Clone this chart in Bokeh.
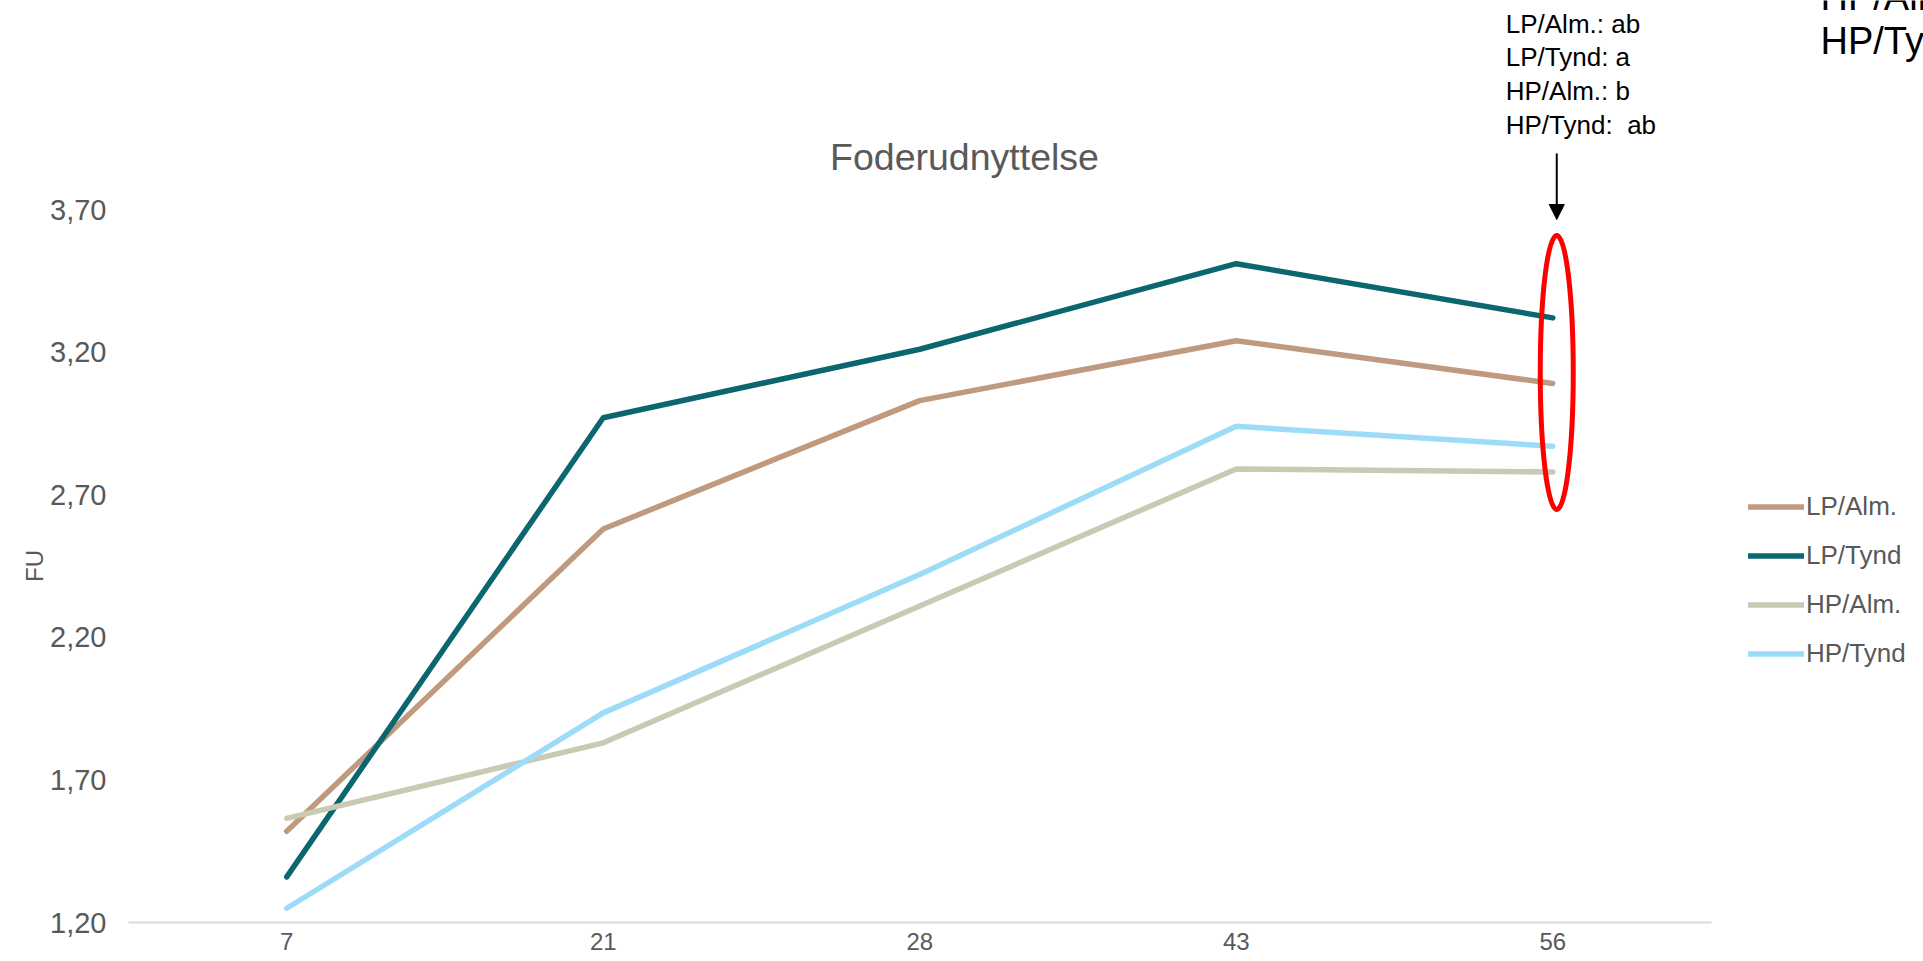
from bokeh.plotting import figure
from bokeh.models import (Range1d, FixedTicker, Legend, LegendItem, Label, Arrow, NormalHead,
                          Title)
from bokeh.embed import file_html
from bokeh.resources import INLINE

# ---- data ----
days = ["7", "21", "28", "43", "56"]
lp_alm = [1.52, 2.58, 3.03, 3.24, 3.09]
lp_tynd = [1.36, 2.97, 3.21, 3.51, 3.32]
hp_alm = [1.565, 1.83, 2.31, 2.79, 2.78]
hp_tynd = [1.25, 1.935, 2.42, 2.94, 2.87]
series_names = ["LP/Alm.", "LP/Tynd", "HP/Alm.", "HP/Tynd"]
series_colors = ["#C09A7E", "#0B6670", "#C9C9B4", "#9DDCF9"]
y_ticks = [1.20, 1.70, 2.20, 2.70, 3.20, 3.70]
y_tick_labels = ["1,20", "1,70", "2,20", "2,70", "3,20", "3,70"]
title_text = "Foderudnyttelse"
y_label = "FU"
sig_lines = ["LP/Alm.: ab", "LP/Tynd: a", "HP/Alm.: b", "HP/Tynd:\u00a0 ab"]
big_lines = ["HP/Alm.: b", "HP/Tynd:\u00a0 ab"]

FONT = "Liberation Sans"
GREY = "#595959"

# ---- layout (pixels) ----
W, H = 1923, 961
PX_LEFT, PX_BOTTOM = 128, 922       # left edge of plot area, row of y = 1.20
PX_PER_X, PX_PER_Y = 316.5, 285.2   # pixels per category / per FU unit
Y0 = y_ticks[0]

xs = list(range(len(days)))
x_end = -0.5 + (W - PX_LEFT) / PX_PER_X
y_end = Y0 + PX_BOTTOM / PX_PER_Y


def ypix(py):
    """data y for an image row (annotation placement)."""
    return Y0 + (PX_BOTTOM - py) / PX_PER_Y


def xpix(px):
    return -0.5 + (px - PX_LEFT) / PX_PER_X


p = figure(width=W, height=H, output_backend="svg", toolbar_location=None,
           title_location=None,
           x_range=Range1d(-0.5, x_end), y_range=Range1d(Y0, y_end),
           min_border_left=PX_LEFT, min_border_right=0, min_border_top=0,
           min_border_bottom=H - PX_BOTTOM)
p.outline_line_color = None
p.xgrid.visible = False
p.ygrid.visible = False
p.background_fill_color = "white"
p.border_fill_color = "white"

# axes
p.xaxis.ticker = FixedTicker(ticks=xs)
p.xaxis.bounds = (-0.5, len(days) - 0.5)
p.xaxis.major_label_overrides = {i: d for i, d in enumerate(days)}
p.xaxis.axis_line_color = "#D9D9D9"
p.xaxis.axis_line_width = 2
p.xaxis.major_tick_line_color = None
p.xaxis.minor_tick_line_color = None
p.xaxis.major_tick_out = 0
p.xaxis.major_tick_in = 0
p.xaxis.major_label_standoff = 10
p.xaxis.major_label_text_font = FONT
p.xaxis.major_label_text_font_size = "24px"
p.xaxis.major_label_text_color = GREY

p.yaxis.ticker = FixedTicker(ticks=y_ticks)
p.yaxis.major_label_overrides = {t: l for t, l in zip(y_ticks, y_tick_labels)}
p.yaxis.axis_line_color = None
p.yaxis.major_tick_line_color = None
p.yaxis.minor_tick_line_color = None
p.yaxis.major_tick_out = 0
p.yaxis.major_tick_in = 0
p.yaxis.major_label_standoff = 22
p.yaxis.major_label_text_font = FONT
p.yaxis.major_label_text_font_size = "29px"
p.yaxis.major_label_text_color = GREY

# y-axis title, centred on the 1,20 - 3,70 span (the frame itself is taller)
y_mid_px = PX_BOTTOM - (y_ticks[-1] - Y0) * PX_PER_Y / 2
label_len_px = 32
p.add_layout(Title(text=y_label, align="left", offset=PX_BOTTOM - (y_mid_px + label_len_px / 2),
                   text_font=FONT, text_font_style="normal", text_font_size="24px",
                   text_color=GREY, standoff=0), "left")

# lines
items = []
for name, vals, col in zip(series_names, [lp_alm, lp_tynd, hp_alm, hp_tynd], series_colors):
    r = p.line(xs, vals, line_color=col, line_width=5.5, line_cap="round", line_join="round")
    items.append(LegendItem(label=name, renderers=[r]))

legend = Legend(items=items, location=(1748 - PX_LEFT, PX_BOTTOM - 678),
                orientation="vertical",
                padding=0, margin=0, spacing=0, glyph_width=56, glyph_height=49,
                label_height=49, label_standoff=2, border_line_alpha=0,
                background_fill_alpha=0, label_text_font=FONT,
                label_text_font_size="26px", label_text_color=GREY)
p.add_layout(legend, "center")

# chart title
p.add_layout(Label(x=xpix(964), y=ypix(156), text=title_text, text_align="center",
                   text_baseline="alphabetic", text_font=FONT, text_font_size="37.5px",
                   text_color=GREY))

# highlight ellipse around the last points
last = len(days) - 1
mark_x = last + 4 / PX_PER_X
p.ellipse(x=[mark_x], y=[ypix(372)], width=33, height=274 / PX_PER_Y, width_units="screen",
          height_units="data", fill_color=None, line_color="#FF0000", line_width=5)

# arrow
p.add_layout(Arrow(end=NormalHead(size=15, fill_color="black", line_color="black", line_width=1),
                   x_start=mark_x, y_start=ypix(153), x_end=mark_x, y_end=ypix(219),
                   line_color="black", line_width=2))

# significance text
for txt, base in zip(sig_lines, [23, 56, 90, 124]):
    p.add_layout(Label(x=last, y=ypix(base), x_offset=-47, text=txt, text_align="left",
                       text_baseline="alphabetic", text_font=FONT,
                       text_font_size="26px", text_color="black"))

for txt, base in zip(big_lines, [-4, 40]):
    p.add_layout(Label(x=xpix(1820), y=ypix(base), text=txt, text_align="left",
                       text_baseline="alphabetic", text_font=FONT,
                       text_font_size="38px", text_color="black"))

open("out.html", "w").write(file_html(p, INLINE))
